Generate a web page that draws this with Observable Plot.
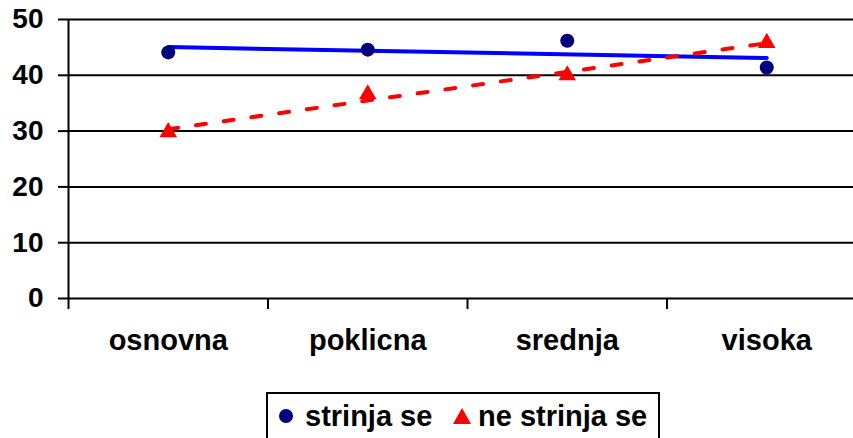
<!DOCTYPE html>
<html>
<head>
<meta charset="utf-8">
<script src="https://cdn.jsdelivr.net/npm/d3@7"></script>
<script src="https://cdn.jsdelivr.net/npm/@observablehq/plot@0.6"></script>
<style>
  html, body { margin: 0; padding: 0; background: #fff; overflow: hidden; }
  #wrap { position: relative; width: 853px; height: 438px; overflow: hidden; font-family: "Liberation Sans", Arial, sans-serif; font-weight: bold; }
  #legend { position: absolute; left: 266px; top: 392px; width: 394px; height: 60px; border: 2px solid #000; box-sizing: border-box; background: #fff; }
  .lt { position: absolute; font-size: 29px; line-height: 29px; white-space: nowrap; color: #000; }
</style>
</head>
<body>
<div id="wrap"></div>
<script>
const categories = ["osnovna", "poklicna", "srednja", "visoka"];
const agree = [44.1, 44.6, 46.2, 41.4];      // strinja se
const disagree = [29.8, 36.6, 40.0, 45.8];   // ne strinja se
const yTicks = [0, 10, 20, 30, 40, 50];
const seriesNames = ["strinja se", "ne strinja se"];

const data = categories.map((c, i) => ({ i, cat: c, agree: agree[i], disagree: disagree[i] }));

const chart = Plot.plot({
  width: 853,
  height: 390,
  marginLeft: 68,
  marginRight: 0,
  marginTop: 19,
  marginBottom: 92,
  x: { type: "linear", domain: [-0.5, 3.5], range: [68, 866], label: null },
  y: { domain: [0, 50], range: [298, 19], label: null },
  style: { fontFamily: "'Liberation Sans', Arial, sans-serif", fontWeight: "bold", color: "#000", background: "#fff", overflow: "hidden" },
  marks: [
    Plot.ruleY(yTicks, { stroke: "#000", strokeWidth: 2 }),
    Plot.ruleX([-0.5], { stroke: "#000", strokeWidth: 2 }),
    Plot.axisY({ ticks: yTicks, tickSize: 10, tickPadding: 15, fontSize: 28, tickFormat: d => String(d), strokeWidth: 2, label: null }),
    Plot.axisX({ ticks: [-0.5, 0.5, 1.5, 2.5], tickSize: 11, tickFormat: () => "", strokeWidth: 2, label: null }),
    Plot.axisX({ ticks: [0, 1, 2, 3], tickSize: 0, tickPadding: 31, fontSize: 29, tickFormat: i => categories[i], label: null }),
    Plot.linearRegressionY(data, { x: "i", y: "agree", stroke: "#0000ff", strokeWidth: 4, ci: 0 }),
    Plot.linearRegressionY(data, { x: "i", y: "disagree", stroke: "#ff0000", strokeWidth: 4, strokeDasharray: "10,18", ci: 0 }),
    Plot.dot(data, { x: "i", y: "agree", r: 7, fill: "#000080", stroke: "none", symbol: "circle" }),
    Plot.dot(data, { x: "i", y: "disagree", r: 6.5, fill: "#ff0000", stroke: "none", symbol: "triangle" })
  ]
});

const wrap = document.getElementById("wrap");
wrap.appendChild(chart);

const legend = document.createElement("div");
legend.id = "legend";
legend.innerHTML = `
  <svg style="position:absolute;left:10px;top:14px" width="16" height="16"><circle cx="8" cy="8" r="7" fill="#000080"/></svg>
  <span class="lt" style="left:37px;top:8px">${seriesNames[0]}</span>
  <svg style="position:absolute;left:184px;top:13px" width="20" height="18"><path d="M10,1 L19,17 L1,17 Z" fill="#ff0000"/></svg>
  <span class="lt" style="left:210px;top:8px">${seriesNames[1]}</span>`;
wrap.appendChild(legend);
</script>
</body>
</html>
